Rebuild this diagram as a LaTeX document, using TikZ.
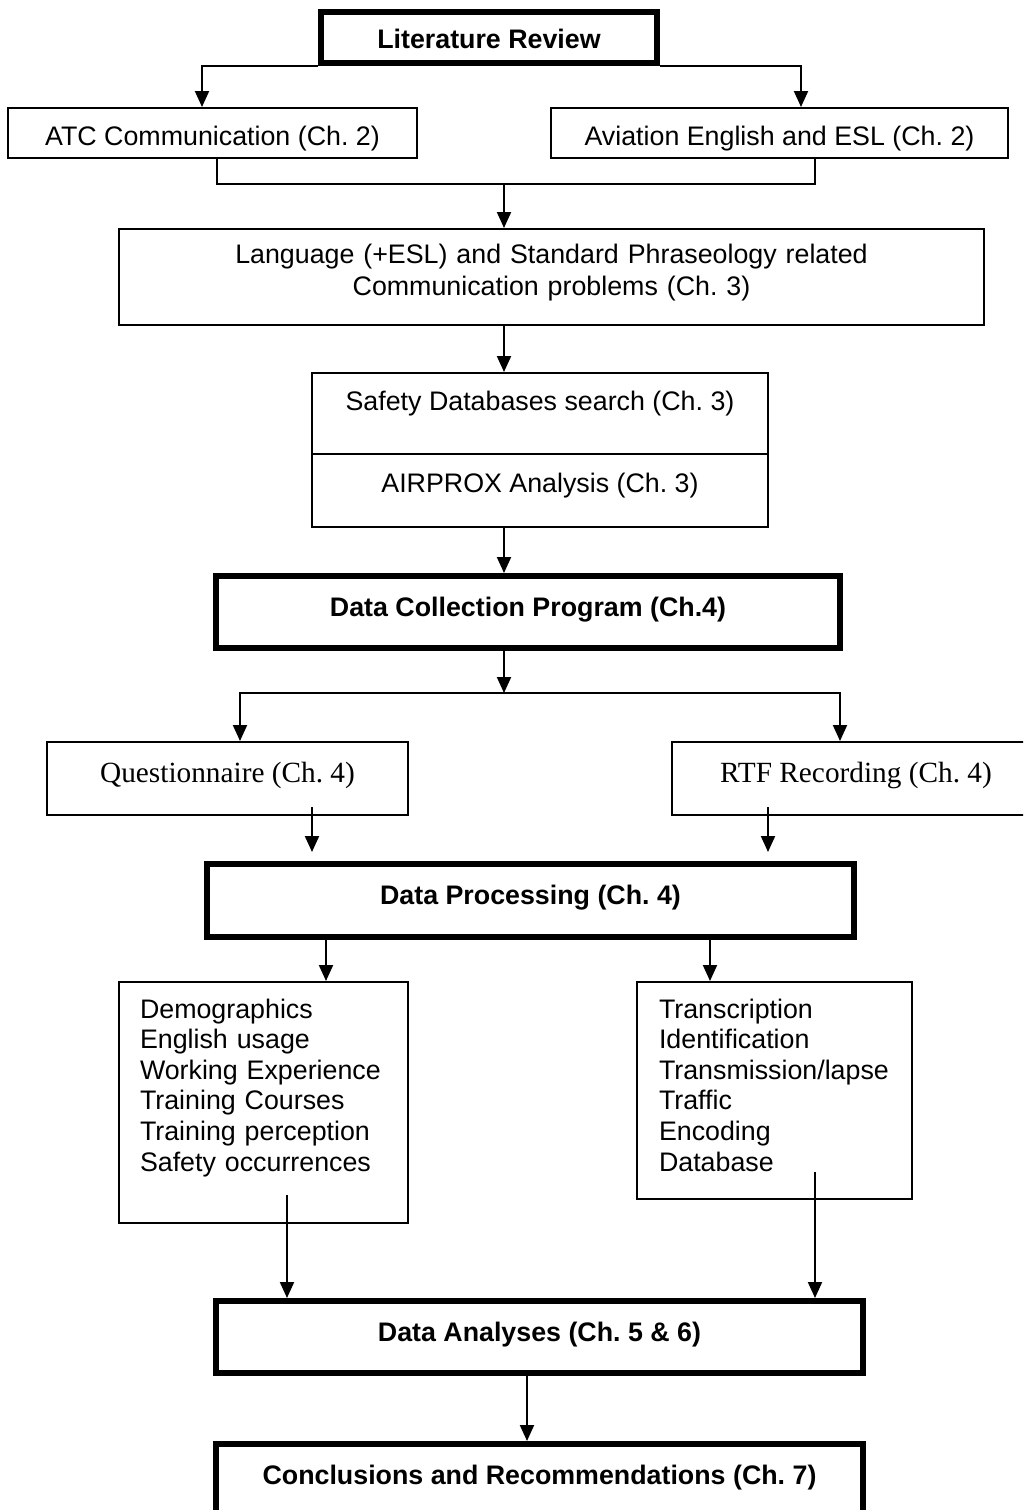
\documentclass[tikz,border=0pt]{standalone}
\usepackage{fontspec}
\setmainfont{Liberation Sans}
\newfontfamily\timesfont{Liberation Serif}
\usetikzlibrary{arrows.meta}
\frenchspacing
\begin{document}
\begin{tikzpicture}[x=0.5pt, y=-0.5pt, line join=miter,
		font=\fontsize{13.4}{16}\selectfont,
		box/.style={draw, line width=1pt, inner sep=0pt, anchor=north, align=center},
		thickbox/.style={box, line width=2.75pt, font=\fontsize{13.4}{16}\selectfont\bfseries},
		listbox/.style={box, align=left, inner ysep=0pt, font=\fontsize{13.4}{15.3}\selectfont},
		arr/.style={line width=1pt, -{Triangle[length=8pt,width=7pt]}},
		line/.style={line width=1pt}]
			\useasboundingbox (0,0) rectangle (1023,1510);
			\clip (0,0) rectangle (1023,1510);
			\node[thickbox, minimum width=168pt, text height=18.5pt, text depth=7pt] (lit) at (489,9) {Literature Review};
			\node[box, minimum width=204.5pt, text height=18.5pt, text depth=6.5pt] (atc) at (212.5,107) {ATC Communication (Ch. 2)};
			\node[box, minimum width=228.5pt, text height=18.5pt, text depth=6.5pt] (avi) at (779.5,107) {Aviation English and ESL (Ch. 2)};
			\node[box, text width=432.5pt, text height=17pt, text depth=31pt] (lang) at (551.5,228)
				{Language (+ESL) and Standard Phraseology related\\Communication problems (Ch. 3)};
			\node[box, minimum width=228pt, text height=18.5pt, text depth=22pt] (safety) at (540,372) {Safety Databases search (Ch. 3)};
			\node[box, minimum width=228pt, text height=19pt, text depth=17.5pt] (airprox) at (540,453) {AIRPROX Analysis (Ch. 3)};
			\node[thickbox, minimum width=312pt, text height=20.5pt, text depth=15.5pt] (dc) at (528,573) {Data Collection Program (Ch.4)};
			\node[box, font=\fontsize{14.65}{17}\timesfont, minimum width=180.5pt, text height=20pt, text depth=16.5pt] (quest) at (227.5,741) {Questionnaire (Ch. 4)};
			\node[box, font=\fontsize{14.65}{17}\timesfont, minimum width=184pt, text height=20pt, text depth=16.5pt] (rtf) at (856,741) {RTF Recording (Ch. 4)};
			\node[thickbox, minimum width=323.5pt, text height=20.5pt, text depth=16pt] (dp) at (530.5,861) {Data Processing (Ch. 4)};
			\node[listbox, inner xsep=10.5pt, text width=123.5pt, text height=18pt, text depth=102.5pt] (demo) at (263.5,981)
				{Demographics\\English usage\\Working Experience\\Training Courses\\Training perception\\Safety occurrences};
			\node[listbox, inner xsep=11pt, text width=115.5pt, text height=18pt, text depth=90.5pt] (trans) at (774.5,981)
				{Transcription\\Identification\\Transmission/lapse\\Traffic\\Encoding\\Database};
			\node[thickbox, minimum width=323.5pt, text height=20.5pt, text depth=15.5pt] (da) at (539.5,1298) {Data Analyses (Ch. 5 \& 6)};
			\node[thickbox, minimum width=323.5pt, text height=20.5pt, text depth=30pt] (concl) at (539.5,1441) {Conclusions and Recommendations (Ch. 7)};
			\coordinate (join) at (504,184);
			\coordinate (fork) at (504,693);
			\draw[arr] (lit.south west) -| ([xshift=-5.25pt]atc.north);
			\draw[arr] (lit.south east) -| ([xshift=10.75pt]avi.north);
			\draw[line] ([xshift=2.25pt]atc.south) |- (join) -| ([xshift=17.75pt]avi.south);
			\draw[arr] (join) -- (join |- lang.north);
			\draw[arr] (join |- lang.south) -- (join |- safety.north);
			\draw[arr] (join |- airprox.south) -- (join |- dc.north);
			\draw[arr] (join |- dc.south) -- (fork);
			\draw[arr] (fork) -| ([xshift=6.25pt]quest.north);
			\draw[arr] (fork) -| ([xshift=-8pt]rtf.north);
			\draw[arr, shorten >=4.5pt] ([xshift=42.25pt,yshift=4.5pt]quest.south) coordinate (q) -- (q |- dp.north);
			\draw[arr, shorten >=4.5pt] ([xshift=-44pt,yshift=4.5pt]rtf.south) coordinate (r) -- (r |- dp.north);
			\draw[arr] ([xshift=31.25pt]demo.north |- dp.south) -- ([xshift=31.25pt]demo.north);
			\draw[arr] ([xshift=-32.25pt]trans.north |- dp.south) -- ([xshift=-32.25pt]trans.north);
			\draw[arr] ([xshift=11.75pt,yshift=14.5pt]demo.south) coordinate (d) -- (d |- da.north);
			\draw[arr] ([xshift=20.25pt,yshift=14pt]trans.south) coordinate (t) -- (t |- da.north);
			\draw[arr] ([xshift=-6.25pt]da.south) -- ([xshift=-6.25pt]concl.north);
		\end{tikzpicture}
\end{document}
